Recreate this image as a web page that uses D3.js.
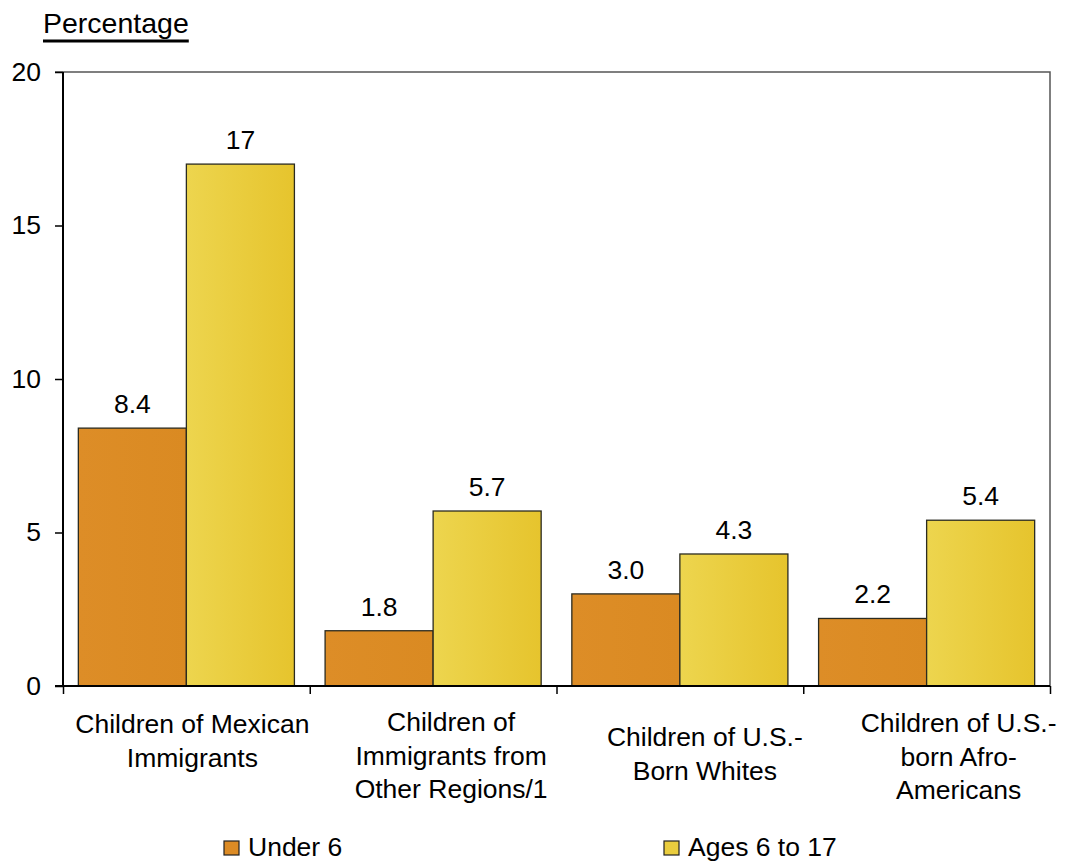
<!DOCTYPE html>
<html>
<head>
<meta charset="utf-8">
<script src="https://cdn.jsdelivr.net/npm/d3@7"></script>
<style>
  html, body { margin: 0; padding: 0; background: #fff; }
  svg { display: block; font-family: "Liberation Sans", Arial, sans-serif; }
</style>
</head>
<body>
<svg id="chart" width="1065" height="861"></svg>
<script>
// Share of children by group, two age bands
const categories = [
  ["Children of Mexican", "Immigrants"],
  ["Children of", "Immigrants from", "Other Regions/1"],
  ["Children of U.S.-", "Born Whites"],
  ["Children of U.S.-", "born Afro-", "Americans"]
];
const seriesNames = ["Under 6", "Ages 6 to 17"];
const under6 = [8.4, 1.8, 3.0, 2.2];
const ages6to17 = [17, 5.7, 4.3, 5.4];
const valueLabels = [["8.4", "1.8", "3.0", "2.2"], ["17", "5.7", "4.3", "5.4"]];
const yTicks = [0, 5, 10, 15, 20];

const svg = d3.select("#chart");
const margin = { left: 63, right: 15, top: 72, bottom: 175 };
const W = 1065, H = 861;
const x0 = margin.left, x1 = W - margin.right;
const yTop = margin.top, yBot = H - margin.bottom;
const FONT = 26.5;

const defs = svg.append("defs");
const grad = (id, c0, c1) => {
  const g = defs.append("linearGradient").attr("id", id)
    .attr("x1", "0%").attr("y1", "0%").attr("x2", "100%").attr("y2", "0%");
  g.append("stop").attr("offset", "0%").attr("stop-color", c0);
  g.append("stop").attr("offset", "100%").attr("stop-color", c1);
};
grad("gOrange", "#DD8D27", "#DA8A22");
grad("gYellow", "#EDD54E", "#E6C42D");
const fills = ["url(#gOrange)", "url(#gYellow)"];
const swatch = ["#DC8B25", "#EACD3E"];

const groupIdx = d3.range(categories.length);
const x = d3.scaleBand().domain(groupIdx).range([x0, x1]).paddingInner(0).paddingOuter(0);
const xs = d3.scaleBand().domain([0, 1]).range([0, x.bandwidth()]).paddingOuter(0.142).paddingInner(0);
const y = d3.scaleLinear().domain([0, 20]).range([yBot, yTop]);

// Plot frame (top and right edges)
svg.append("path")
  .attr("d", `M${x0 - 8},${yTop}H${x1}V${yBot}`)
  .attr("fill", "none").attr("stroke", "#555").attr("stroke-width", 1.5);

// Bars
const data = [under6, ages6to17];
groupIdx.forEach(i => {
  data.forEach((series, s) => {
    const v = series[i];
    svg.append("rect")
      .attr("x", x(i) + xs(s))
      .attr("y", y(v))
      .attr("width", xs.bandwidth())
      .attr("height", y(0) - y(v))
      .attr("fill", fills[s])
      .attr("stroke", "#2b2b20").attr("stroke-width", 1.3);
    svg.append("text")
      .attr("x", x(i) + xs(s) + xs.bandwidth() / 2)
      .attr("y", y(v) - 15)
      .attr("text-anchor", "middle")
      .attr("font-size", FONT).attr("fill", "#000")
      .text(valueLabels[s][i]);
  });
});

// Y axis
const yAxis = svg.append("g").attr("transform", `translate(${x0},0)`)
  .call(d3.axisLeft(y).tickValues(yTicks).tickSize(8).tickPadding(14).tickFormat(d3.format("d")));
yAxis.select(".domain").attr("stroke", "#000").attr("stroke-width", 2).attr("d", `M0,${yTop}V${yBot}`);
yAxis.selectAll(".tick line").attr("stroke", "#000").attr("stroke-width", 1.5);
yAxis.selectAll(".tick text").attr("font-size", FONT).attr("fill", "#000")
  .attr("font-family", "Liberation Sans, Arial, sans-serif");

// X axis baseline and group separators
const xAxis = svg.append("g").attr("transform", `translate(0,${yBot})`)
  .call(d3.axisBottom(d3.scaleLinear().domain([0, categories.length]).range([x0, x1]))
    .tickValues(d3.range(categories.length + 1)).tickSize(8).tickFormat(""));
xAxis.select(".domain").attr("stroke", "#000").attr("stroke-width", 2).attr("d", `M${x0 - 8},0H${x1}`);
xAxis.selectAll(".tick line").attr("stroke", "#000").attr("stroke-width", 1.5);

// Category labels (per-group nudge and first-line baseline)
const lineH = 33.5;
const labelNudge = [6, 18, 25, 32];
const firstBaseline = [733, 731, 746, 732];
groupIdx.forEach(i => {
  const lines = categories[i];
  const t = svg.append("text")
    .attr("text-anchor", "middle").attr("font-size", FONT).attr("fill", "#000");
  lines.forEach((ln, k) => {
    t.append("tspan").attr("x", x(i) + x.bandwidth() / 2 + labelNudge[i])
      .attr("y", firstBaseline[i] + k * lineH).text(ln);
  });
});

// Y axis title with heavy underline
const title = svg.append("text").attr("x", 43).attr("y", 33)
  .attr("font-size", 28.5).attr("fill", "#000")
  .text("Percentage");
const tb = title.node().getBBox();
svg.append("rect").attr("x", tb.x).attr("y", 39.5)
  .attr("width", tb.width).attr("height", 3).attr("fill", "#000");

// Legend
const legendX = [224, 664];
seriesNames.forEach((name, s) => {
  svg.append("rect").attr("x", legendX[s]).attr("y", 841)
    .attr("width", 15).attr("height", 14)
    .attr("fill", swatch[s]).attr("stroke", "#222").attr("stroke-width", 1.2);
  svg.append("text").attr("x", legendX[s] + 24).attr("y", 856)
    .attr("font-size", FONT).attr("fill", "#000").text(name);
});
</script>
</body>
</html>
